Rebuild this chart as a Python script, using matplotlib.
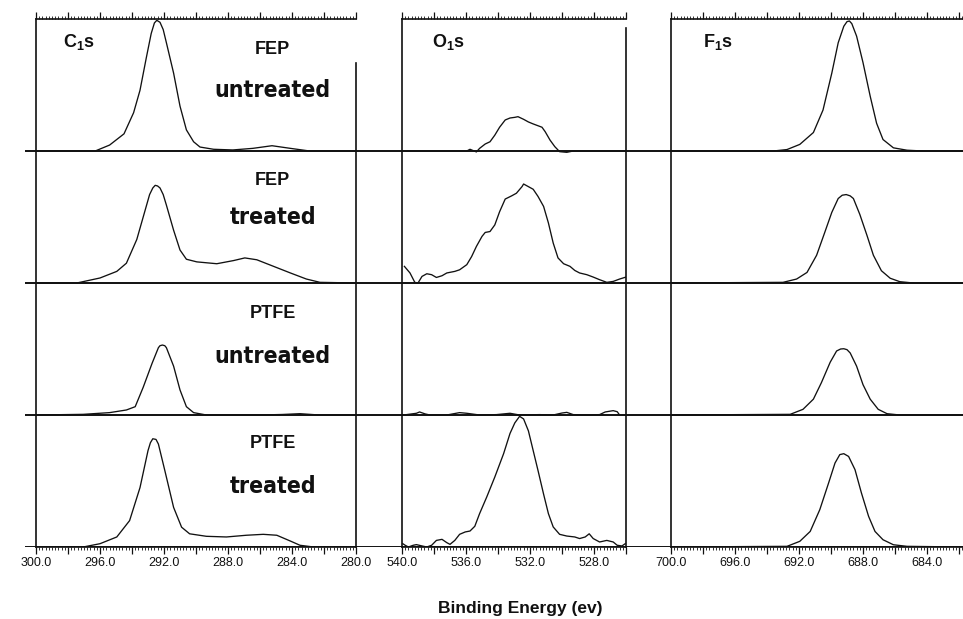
import numpy as np
import matplotlib.pyplot as plt
from matplotlib import font_manager
from matplotlib.ticker import MultipleLocator, FuncFormatter

plt.rcParams['font.family'] = ['Liberation Sans', 'DejaVu Sans']
plt.rcParams['mathtext.fontset'] = 'custom'
plt.rcParams['mathtext.bf'] = 'Liberation Sans:bold'
plt.rcParams['mathtext.rm'] = 'Liberation Sans'

# --- spectra: binding energy (eV) / intensity (fraction of one row)

# C 1s
c1s_fep_untr_e = [300.0, 296.3, 295.4, 294.5, 293.9, 293.5, 293.1, 292.8, 292.6, 292.45, 292.25,
                  292.05, 291.85, 291.4, 291.0, 290.6, 290.15, 289.75, 288.9, 287.7, 286.45,
                  285.25, 284.1, 282.9, 280.0]
c1s_fep_untr_i = [0, 0, 0.045, 0.13, 0.29, 0.46, 0.71, 0.89, 0.97, 0.99, 0.975,
                  0.92, 0.82, 0.59, 0.34, 0.16, 0.07, 0.03, 0.013, 0.008, 0.02,
                  0.04, 0.02, 0, 0]

c1s_fep_tr_e = [300.0, 297.45, 296.0, 294.95, 294.35, 293.7, 293.3, 292.9, 292.7, 292.55, 292.4,
                292.25, 292.05, 291.85, 291.4, 291.0, 290.6, 289.95, 288.7, 287.65, 286.95,
                286.2, 285.15, 284.1, 283.1, 282.25, 280.0]
c1s_fep_tr_i = [0, 0, 0.038, 0.088, 0.15, 0.33, 0.50, 0.67, 0.72, 0.74, 0.735,
                0.72, 0.67, 0.59, 0.40, 0.25, 0.18, 0.16, 0.146, 0.17, 0.19,
                0.176, 0.126, 0.076, 0.03, 0.005, 0]

c1s_ptfe_untr_e = [300.0, 297.05, 295.4, 294.35, 293.8, 293.3, 292.75, 292.35, 292.25, 292.1,
                   291.95, 291.85, 291.4, 291.0, 290.6, 290.15, 289.35, 286.0, 284.6, 283.5,
                   282.3, 280.0]
c1s_ptfe_untr_i = [0, 0.005, 0.018, 0.038, 0.063, 0.21, 0.39, 0.51, 0.525, 0.53,
                   0.525, 0.51, 0.37, 0.19, 0.063, 0.018, 0, 0, 0.004, 0.01,
                   0, 0]

c1s_ptfe_tr_e = [300.0, 297.05, 296.0, 294.95, 294.15, 293.5, 293.0, 292.85, 292.7, 292.5,
                 292.35, 291.95, 291.4, 290.9, 290.4, 289.35, 288.1, 286.85, 285.8, 284.95,
                 284.1, 283.5, 282.65, 280.0]
c1s_ptfe_tr_i = [0, 0, 0.025, 0.076, 0.20, 0.45, 0.73, 0.79, 0.82, 0.815,
                 0.78, 0.58, 0.30, 0.15, 0.10, 0.081, 0.076, 0.089, 0.096, 0.089,
                 0.045, 0.013, 0, 0]

# O 1s
o1s_fep_untr_e = [540.0, 539.7, 535.95, 535.75, 535.55, 535.35, 535.15, 534.8, 534.5, 534.2,
                  533.9, 533.55, 533.25, 532.95, 532.75, 532.4, 532.1, 531.8, 531.25, 531.05,
                  530.75, 530.45, 530.15, 529.7, 529.3, 528.9, 526.0]
o1s_fep_untr_i = [0, 0, 0, 0.013, 0.003, -0.007, 0.02, 0.053, 0.07, 0.12,
                  0.18, 0.235, 0.25, 0.255, 0.26, 0.24, 0.22, 0.205, 0.18, 0.146,
                  0.083, 0.033, -0.005, -0.01, 0, 0, 0]

o1s_fep_tr_e = [539.85, 539.5, 539.2, 539.0, 538.75, 538.45, 538.15, 537.85, 537.5, 537.2,
                536.7, 536.4, 535.95, 535.65, 535.35, 535.0, 534.8, 534.5, 534.2, 533.9,
                533.55, 533.15, 532.85, 532.5, 532.4, 532.1, 531.8, 531.5, 531.15, 530.85,
                530.55, 530.25, 529.9, 529.5, 529.2, 528.9, 528.45, 528.05, 527.65, 527.2,
                526.8, 526.4, 526.0]
o1s_fep_tr_i = [0.126, 0.076, 0.005, 0, 0.05, 0.07, 0.063, 0.042, 0.055, 0.076,
                0.088, 0.10, 0.139, 0.20, 0.277, 0.353, 0.383, 0.39, 0.44, 0.54,
                0.636, 0.66, 0.68, 0.73, 0.75, 0.73, 0.71, 0.656, 0.58, 0.455,
                0.303, 0.19, 0.146, 0.126, 0.095, 0.076, 0.063, 0.045, 0.025, 0.005,
                0.012, 0.03, 0.045]

o1s_ptfe_untr_e = [540.0, 539.9, 539.1, 538.9, 538.55, 538.25, 537.2, 536.4, 535.95, 535.15,
                   534.1, 533.25, 532.65, 531.4, 530.55, 530.0, 529.7, 529.3, 528.45, 527.65,
                   527.3, 526.8, 526.55, 526.4, 526.0]
o1s_ptfe_untr_i = [0, 0, 0.013, 0.023, 0.008, 0, 0, 0.018, 0.013, 0,
                   0.003, 0.013, 0, 0.003, 0, 0.015, 0.02, 0.003, 0, 0.003,
                   0.023, 0.033, 0.025, 0, 0]

o1s_ptfe_tr_e = [539.95, 539.8, 539.6, 539.3, 539.1, 538.75, 538.45, 538.15, 537.85, 537.5,
                 537.2, 537.0, 536.7, 536.4, 536.05, 535.75, 535.45, 535.15, 534.7, 534.2,
                 533.65, 533.25, 532.95, 532.65, 532.4, 532.1, 531.8, 531.5, 531.15, 530.85,
                 530.55, 530.15, 529.7, 529.2, 528.9, 528.55, 528.3, 528.05, 527.65, 527.2,
                 526.8, 526.55, 526.25, 526.05]
o1s_ptfe_tr_i = [0.025, 0.013, 0, 0.013, 0.018, 0.008, 0, 0.013, 0.05, 0.058,
                 0.033, 0.02, 0.05, 0.096, 0.114, 0.121, 0.157, 0.253, 0.38, 0.53,
                 0.707, 0.86, 0.94, 0.99, 0.97, 0.88, 0.73, 0.58, 0.40, 0.253,
                 0.152, 0.096, 0.083, 0.076, 0.064, 0.076, 0.10, 0.064, 0.038, 0.05,
                 0.038, 0.013, 0.008, 0.025]

# F 1s
f1s_fep_untr_e = [700.0, 693.6, 692.75, 691.95, 691.1, 690.5, 689.95, 689.55, 689.2, 689.0,
                  688.85, 688.7, 688.4, 688.0, 687.55, 687.15, 686.75, 686.1, 685.25, 684.25,
                  681.75]
f1s_fep_untr_i = [0, 0, 0.011, 0.05, 0.14, 0.31, 0.59, 0.82, 0.945, 0.98,
                  0.985, 0.965, 0.87, 0.67, 0.415, 0.21, 0.087, 0.024, 0.006, 0,
                  0]

f1s_fep_tr_e = [700.0, 693.0, 692.15, 691.5, 690.9, 690.4, 689.95, 689.55, 689.3, 689.05,
                688.8, 688.6, 688.2, 687.75, 687.35, 686.85, 686.3, 685.7, 684.85, 681.75]
f1s_fep_tr_i = [0, 0.005, 0.03, 0.08, 0.21, 0.38, 0.535, 0.64, 0.665, 0.67,
                0.66, 0.64, 0.52, 0.36, 0.21, 0.093, 0.036, 0.01, 0, 0]

f1s_ptfe_untr_e = [700.0, 692.55, 691.75, 691.1, 690.6, 690.05, 689.65, 689.4, 689.2, 689.0,
                   688.8, 688.4, 688.0, 687.55, 687.05, 686.5, 685.7, 681.75]
f1s_ptfe_untr_i = [0, 0.005, 0.043, 0.12, 0.245, 0.40, 0.485, 0.50, 0.502, 0.495,
                   0.47, 0.37, 0.23, 0.12, 0.043, 0.01, 0, 0]

f1s_ptfe_tr_e = [700.0, 692.75, 691.95, 691.3, 690.7, 690.15, 689.75, 689.45, 689.2, 688.9,
                 688.5, 688.1, 687.65, 687.25, 686.75, 686.1, 685.25, 681.75]
f1s_ptfe_tr_i = [0, 0.005, 0.043, 0.118, 0.283, 0.485, 0.636, 0.70, 0.707, 0.686,
                 0.586, 0.41, 0.232, 0.118, 0.055, 0.017, 0.005, 0]

samples = ['FEP', 'FEP', 'PTFE', 'PTFE']
states = ['untreated', 'treated', 'untreated', 'treated']

ink = '#111111'
W, H = 963, 619

# narrow bold face for "untreated"/"treated" if one is installed
narrow = None
for f in font_manager.fontManager.ttflist:
    if ('Narrow' in f.name or 'Condensed' in f.name or f.stretch == 'condensed') \
            and f.weight in ('bold', 700):
        narrow = f.fname
        break
if narrow:
    state_font = dict(fontproperties=font_manager.FontProperties(fname=narrow, size=16.5))
else:
    state_font = dict(fontsize=16, fontweight='bold')

fig = plt.figure(figsize=(W / 100, H / 100), dpi=100)


def px_axes(x0, x1, y_top=19, y_bot=547):
    return fig.add_axes([x0 / W, 1 - y_bot / H, (x1 - x0) / W, (y_bot - y_top) / H])


# row baselines run across the whole sheet
bg = px_axes(25, 963)
bg.set_xlim(0, 1)
bg.set_ylim(0, 4)
bg.axis('off')
for k in range(4):
    bg.axhline(k, color=ink, lw=1.4)

panels = [
    dict(px=(36, 356), xlim=(300, 280), name=r'$\mathbf{C}_{\mathbf{1}}\mathbf{s}$', name_x=298.3,
         right=3.67,
         spectra=[(c1s_fep_untr_e, c1s_fep_untr_i), (c1s_fep_tr_e, c1s_fep_tr_i),
                  (c1s_ptfe_untr_e, c1s_ptfe_untr_i), (c1s_ptfe_tr_e, c1s_ptfe_tr_i)]),
    dict(px=(402, 626), xlim=(540, 526), name=r'$\mathbf{O}_{\mathbf{1}}\mathbf{s}$', name_x=538.1,
         right=3.93,
         spectra=[(o1s_fep_untr_e, o1s_fep_untr_i), (o1s_fep_tr_e, o1s_fep_tr_i),
                  (o1s_ptfe_untr_e, o1s_ptfe_untr_i), (o1s_ptfe_tr_e, o1s_ptfe_tr_i)]),
    dict(px=(671, 963), xlim=(700, 681.75), name=r'$\mathbf{F}_{\mathbf{1}}\mathbf{s}$', name_x=698.0,
         right=None,
         spectra=[(f1s_fep_untr_e, f1s_fep_untr_i), (f1s_fep_tr_e, f1s_fep_tr_i),
                  (f1s_ptfe_untr_e, f1s_ptfe_untr_i), (f1s_ptfe_tr_e, f1s_ptfe_tr_i)]),
]


def every4(v, pos):
    if abs(v / 4 - round(v / 4)) < 1e-6:
        return f'{v:.1f}'
    return ''


axes = []
for p in panels:
    ax = px_axes(*p['px'])
    ax.set_facecolor('none')
    ax.set_xlim(*p['xlim'])
    ax.set_ylim(0, 4)
    for k, (e, inten) in enumerate(p['spectra']):
        ax.plot(e, np.array(inten) + (3 - k), color=ink, lw=0.95, solid_joinstyle='round')

    ax.xaxis.set_major_locator(MultipleLocator(2))
    ax.xaxis.set_minor_locator(MultipleLocator(0.2))
    ax.xaxis.set_major_formatter(FuncFormatter(every4))
    ax.tick_params(axis='x', which='both', top=True, bottom=True, direction='out',
                   labeltop=False, color=ink, labelcolor=ink, labelsize=9, pad=2)
    ax.tick_params(axis='x', which='major', length=5, width=0.9)
    ax.tick_params(axis='x', which='minor', length=2.5, width=0.6)
    ax.set_yticks([])

    for s in ax.spines.values():
        s.set_color(ink)
        s.set_linewidth(1.2)
    if p['right'] is None:
        ax.spines['right'].set_visible(False)
    else:
        ax.spines['right'].set_bounds(0, p['right'])

    ax.text(p['name_x'], 3.79, p['name'], fontsize=13, color=ink, ha='left', va='baseline')
    axes.append(ax)

# sample labels in the C1s panel
ax = axes[0]
lab_y = [(3.735, 3.41), (2.742, 2.447), (1.735, 1.394), (0.75, 0.409)]
for k in range(4):
    ax.text(285.2, lab_y[k][0], samples[k], fontsize=13, fontweight='bold', color=ink,
            ha='center', va='baseline')
    ax.text(285.2, lab_y[k][1], states[k], color=ink, ha='center', va='baseline', **state_font)

fig.text(520 / W, 1 - 613 / H, 'Binding Energy (ev)', fontsize=12.5, fontweight='bold',
         color=ink, ha='center', va='baseline')

fig.savefig('out.png', dpi=100, facecolor='white')
